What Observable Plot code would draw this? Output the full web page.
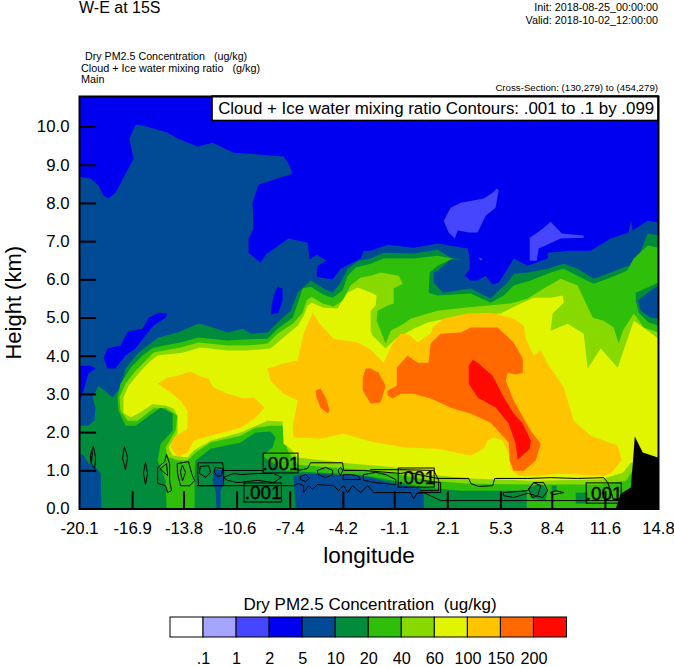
<!DOCTYPE html>
<html><head><meta charset="utf-8">
<script src="https://cdn.jsdelivr.net/npm/d3@7"></script>
<script src="https://cdn.jsdelivr.net/npm/@observablehq/plot@0.6"></script>
<style>
html,body{margin:0;padding:0;background:#fff;font-family:"Liberation Sans",Arial,sans-serif;color:#000}
#page{width:674px;height:667px;overflow:hidden}
#head{position:relative;height:90px}
#head div{position:absolute;white-space:pre;line-height:1}
#legendTitle{height:16px;line-height:18px;text-align:center;font-size:17px;width:400px;margin-left:170px;white-space:pre}
svg{display:block}
</style></head><body>
<div id="page">
<div id="head">
<div style="left:79px;top:0px;font-size:16px">W-E at 15S</div>
<div style="right:16px;top:2px;font-size:10.8px">Init: 2018-08-25_00:00:00</div>
<div style="right:16px;top:15px;font-size:10.8px">Valid: 2018-10-02_12:00:00</div>
<div style="left:85px;top:51px;font-size:10.7px">Dry PM2.5 Concentration   (ug/kg)</div>
<div style="left:81px;top:63px;font-size:10.8px">Cloud + Ice water mixing ratio   (g/kg)</div>
<div style="left:81px;top:74px;font-size:10.8px">Main</div>
<div style="right:16px;top:83px;font-size:9.7px">Cross-Section: (130,279) to (454,279)</div>
</div>
<div id="chart"></div>
<div id="legendTitle">Dry PM2.5 Concentration  (ug/kg)</div>
<div id="legend"></div>
</div>
<script>
// Legend classes
const classColors = ["#ffffff","#a5a5ff","#4646ff","#0000f0","#004a96","#008c3c","#2fbe0a","#87d900","#e1f500","#ffc400","#ff6900","#ff0a00"];
const classLabels = [".1","1","2","5","10","20","40","60","100","150","200"];
const xTickValues = [-20.1,-16.9,-13.8,-10.6,-7.4,-4.2,-1.1,2.1,5.3,8.4,11.6,14.8];
const yTickValues = [0,1,2,3,4,5,6,7,8,9,10];

// Filled regions as flat [longitude, height km, ...] outlines
const ge5Main = [-20.1,8.70,-19.44,8.65,-18.95,8.47,-18.65,8.20,-18.35,8.13,-17.93,8.28,-16.84,9.17,-17.09,9.70,-16.72,10.06,-16.30,10.04,-15.64,9.96,-14.79,9.85,-14.19,9.70,-12.98,9.49,-12.08,9.59,-10.81,9.33,-7.80,9.23,-7.50,9.04,-7.26,8.78,-8.40,8.62,-9.31,8.49,-9.67,8.02,-9.61,7.34,-9.91,7.08,-9.91,6.71,-9.19,6.45,-8.88,6.66,-7.50,7.08,-6.35,6.97,-6.23,6.53,-5.81,6.66,-5.21,6.50,-5.75,6.37,-5.81,6.08,-4.84,6.01,-4.36,6.29,-3.15,6.56,-2.97,6.76,-2.55,6.76,-1.53,6.92,0.04,6.84,1.49,6.95,3.30,6.82,3.42,6.56,3.42,6.29,3.12,6.11,3.48,5.98,3.90,5.98,4.38,6.11,4.80,5.87,5.17,5.93,5.71,6.29,6.07,6.56,6.91,6.37,8.12,6.56,8.12,6.71,9.51,6.76,10.71,6.76,11.92,7.08,13.00,7.24,13.13,7.55,13.25,7.29,14.15,7.55,14.8,7.50,14.8,0,-20.1,0];
const below5Left = [-20.1,3.75,-19.44,3.75,-19.13,3.68,-19.56,3.54,-19.86,3.10,-20.1,2.79];
const below5Blob = [-14.79,5.12,-15.34,5.14,-15.94,5.01,-16.30,4.72,-17.20,4.64,-17.63,4.28,-18.41,4.20,-18.65,3.96,-18.41,3.68,-17.93,3.68,-17.33,4.02,-16.72,4.20,-16.12,4.54,-15.64,4.80,-14.91,5.01];
const below5Slit = [-8.16,5.82,-7.86,5.77,-7.86,5.46,-8.10,5.14,-8.58,5.09,-8.52,5.32,-8.40,5.59];
const ge10Main = [-20.1,2.18,-19.62,2.18,-19.20,2.31,-19.13,2.65,-19.31,2.92,-18.95,3.23,-18.11,2.92,-17.63,3.18,-17.33,3.68,-16.60,4.07,-15.82,4.33,-15.34,4.49,-14.19,4.62,-12.92,4.85,-12.38,4.80,-11.18,4.62,-10.27,4.72,-9.79,4.59,-8.76,4.62,-8.16,4.88,-7.37,5.19,-6.95,5.66,-6.17,5.98,-5.38,5.77,-4.84,5.66,-4.36,5.93,-3.94,6.29,-3.27,6.50,-2.55,6.56,-1.77,6.71,0.04,6.69,1.49,6.79,2.27,6.58,2.94,6.53,2.27,6.53,1.49,6.24,1.25,6.19,1.25,5.93,1.79,5.66,3.48,5.77,4.68,5.51,5.17,5.72,5.71,5.93,6.07,6.16,6.91,6.19,8.12,6.29,9.09,6.42,9.93,6.29,10.90,6.03,11.92,6.19,12.95,6.37,13.13,6.29,13.55,6.56,14.15,7.21,14.8,7.16,14.8,0,-18.77,0,-18.83,0.93,-19.13,1.09,-19.56,1.19,-19.85,1.40,-20.1,1.46];
const below10Floor = [-7.19,0.87,-6.35,0.93,-3.33,0.87,-2.55,0.82,-1.16,0.67,0.46,0.54,0.65,0.40,0.65,0,-7.07,0];
const below10Slim = [-12.02,1.06,-11.41,1.00,-11.41,0.67,-11.60,0.48,-11.60,0,-11.84,0,-11.90,0.48,-12.08,0.74];
const ge20Main = [-17.75,2.58,-17.81,2.92,-17.63,3.28,-17.02,3.70,-16.30,4.02,-15.64,4.23,-14.01,4.36,-12.92,4.49,-11.18,4.41,-10.21,4.44,-8.76,4.46,-8.16,4.72,-7.25,5.01,-6.89,5.46,-6.65,5.77,-6.17,5.82,-5.38,5.61,-4.84,5.53,-4.24,5.72,-3.94,6.11,-3.45,6.32,-2.55,6.42,-1.77,6.56,0.04,6.56,1.49,6.63,2.40,6.56,1.49,6.37,1.01,6.19,0.95,5.66,1.49,5.59,3.48,5.64,4.68,5.40,5.47,5.59,6.07,5.85,7.10,5.98,8.30,6.19,9.09,6.29,10.11,6.06,10.90,5.90,11.92,6.06,12.89,6.24,13.31,6.56,14.15,6.90,14.8,6.84,14.8,0,6.86,0,6.86,0.48,2.88,0.48,0.65,0.56,-1.16,0.74,-3.15,0.90,-6.95,0.98,-7.67,1.01,-8.70,1.27,-9.06,1.40,-8.46,1.61,-8.28,1.87,-8.58,2.03,-9.49,2.00,-10.39,1.74,-12.20,1.58,-13.10,1.27,-13.16,1.00,-13.16,0,-14.85,0,-14.91,0.74,-15.39,1.27,-15.21,1.71,-14.49,2.05,-14.49,2.50,-15.21,2.65,-15.70,2.50,-16.72,2.18,-17.33,2.18];
const below20Right = [14.8,5.93,14.15,5.80,13.43,5.66,13.43,5.46,13.61,5.14,14.21,4.88,14.8,4.80];
const below20PatchA = [6.92,0.54,7.70,0.69,8.12,0.48,8.00,0.22,7.10,0.28];
const below20PatchB = [9.81,0.43,10.53,0.43,10.53,0.14,9.81,0.14];
const below20PatchC = [8.36,0.61,8.66,0.61,8.66,0.46,8.36,0.46];
const below10Right = [14.8,5.85,14.15,5.66,13.55,5.45,13.73,5.19,14.33,5.01,14.8,4.99];
const ge40Main = [-17.63,2.58,-17.69,2.92,-17.33,3.28,-16.72,3.62,-16.12,3.88,-15.64,4.10,-14.01,4.23,-12.92,4.36,-11.18,4.28,-9.97,4.28,-8.76,4.33,-8.16,4.59,-7.25,4.85,-6.65,5.14,-6.41,5.46,-6.11,5.56,-5.44,5.38,-4.78,5.30,-4.24,5.46,-3.76,5.85,-3.15,6.06,-2.55,6.11,-1.95,6.19,-0.86,6.11,-0.62,5.90,-1.16,5.77,-1.16,5.38,-1.53,5.33,-2.13,5.19,-2.19,4.93,-1.95,4.67,-1.65,4.33,-1.34,4.67,-0.56,4.85,-0.14,4.98,0.89,5.12,1.49,5.19,3.06,5.27,5.89,5.38,6.92,5.51,7.88,5.77,8.91,6.03,9.93,5.85,10.29,5.51,10.84,5.01,11.50,4.93,12.10,4.75,12.40,4.33,12.65,4.67,13.31,5.12,13.91,4.75,14.8,4.62,14.8,1.0,13.25,1.01,12.83,0.74,11.32,0.64,7.10,0.64,3.48,0.66,1.07,0.74,-1.16,0.93,-3.15,1.03,-6.95,1.16,-7.49,1.48,-7.74,1.79,-7.67,2.18,-8.58,2.18,-9.49,2.13,-10.39,1.92,-12.20,1.74,-13.10,1.48,-13.59,1.27,-14.13,1.27,-14.79,1.37,-14.91,1.61,-14.31,2.05,-14.19,2.44,-14.91,2.65,-15.64,2.63,-16.60,2.31,-17.20,2.31];
const ge60Main = [-17.45,2.52,-17.45,2.92,-17.14,3.23,-16.54,3.55,-15.94,3.83,-15.39,4.02,-13.89,4.09,-12.80,4.23,-11.18,4.15,-9.97,4.15,-8.58,4.20,-7.80,4.49,-6.95,4.80,-6.59,5.06,-6.35,5.32,-6.11,5.40,-5.38,5.27,-4.54,5.25,-4.36,5.38,-3.94,5.66,-3.33,5.80,-2.55,5.67,-2.19,5.59,-2.25,5.33,-2.55,5.19,-2.55,4.67,-2.43,4.54,-1.65,4.20,-1.04,4.46,0.04,4.72,0.89,4.88,1.97,4.98,3.06,5.06,5.29,5.12,6.50,5.38,7.28,5.53,8.30,5.53,9.03,5.59,9.09,5.40,8.42,5.12,8.30,4.67,9.33,4.85,10.29,4.59,10.53,3.68,11.32,4.20,12.34,3.70,13.31,4.93,14.15,4.67,14.8,4.46,14.8,1.2,13.13,1.21,12.65,0.95,11.32,0.77,7.10,0.74,3.48,0.80,1.07,0.90,-1.16,1.09,-3.94,1.20,-6.95,1.35,-7.37,1.57,-7.80,1.71,-7.86,2.29,-8.76,2.31,-10.39,2.00,-12.20,1.79,-13.22,1.53,-13.59,1.35,-14.49,1.40,-14.73,1.61,-14.19,1.98,-14.19,2.44,-14.43,2.63,-14.91,2.71,-15.70,2.74,-16.54,2.50,-17.02,2.40];
const ge100Left = [-15.39,3.28,-14.79,3.44,-14.19,3.49,-13.40,3.60,-12.92,3.49,-12.32,3.41,-12.02,3.18,-11.18,3.02,-10.21,2.89,-9.61,2.92,-8.94,2.65,-9.49,2.39,-10.39,2.13,-12.20,1.92,-13.22,1.79,-13.59,1.48,-14.19,1.37,-14.61,1.61,-14.43,1.87,-13.59,2.10,-13.59,2.57,-14.01,2.84,-14.61,3.05];
const ge100Main = [-8.76,3.68,-7.80,3.81,-6.95,3.89,-6.59,4.59,-6.05,5.14,-5.69,4.88,-4.78,4.46,-3.33,4.36,-2.55,4.17,-1.77,3.83,-1.22,4.33,-0.74,4.59,-0.26,4.57,0.28,4.36,1.07,4.59,1.19,4.75,1.85,4.98,3.30,5.12,4.68,5.14,6.07,4.98,6.68,4.80,6.80,4.46,7.28,4.02,7.70,4.15,8.12,3.81,9.09,3.18,9.69,2.31,10.71,1.92,12.34,1.66,12.58,1.27,11.92,0.93,11.50,0.87,8.73,0.92,7.52,0.87,6.37,0.87,5.89,1.05,5.77,1.45,5.41,1.79,4.86,1.87,4.50,1.79,4.26,1.58,3.48,1.40,1.49,1.58,-0.56,1.61,-2.55,1.77,-4.18,1.97,-5.57,1.84,-7.19,1.87,-7.25,2.13,-6.95,2.84,-7.80,3.02,-8.58,3.36];
const ge150Small = [-5.87,3.10,-5.57,3.15,-5.26,2.92,-5.02,2.58,-5.14,2.50,-5.57,2.65,-5.81,2.92];
const ge150Left = [-2.85,3.68,-2.55,3.68,-2.07,3.57,-1.65,3.23,-1.95,2.79,-2.55,2.76,-3.03,3.10,-3.03,3.44];
const ge150Main = [-1.53,2.97,-1.53,3.10,-0.98,3.23,-0.98,3.70,-0.32,4.02,0.28,3.83,0.94,3.83,1.07,4.33,1.67,4.59,2.88,4.62,3.48,4.75,5.11,4.75,6.07,4.36,6.62,3.94,6.62,3.57,6.19,3.52,5.71,3.57,5.59,3.36,6.07,2.84,7.10,2.05,7.70,1.71,7.40,1.27,6.68,1.00,6.07,1.00,5.83,1.27,5.77,1.74,4.68,2.26,3.48,2.50,2.40,2.63,1.07,2.89,0.04,3.02,-0.74,3.02,-1.22,2.89];
const ge200Main = [3.36,3.75,3.60,3.91,3.90,3.83,4.80,3.49,5.47,2.92,6.07,2.50,6.62,2.24,7.10,1.79,7.04,1.58,6.31,1.29,6.19,1.71,5.77,2.24,4.98,2.66,3.90,2.92,3.36,3.28];
const below2West = [5.05,8.39,5.17,8.34,4.98,7.89,4.38,7.68,3.90,7.24,3.36,7.24,2.70,7.29,2.52,7.08,2.15,7.24,1.85,7.55,2.27,7.89,2.88,8.02,4.26,8.13,4.80,8.28];
const below2East = [8.30,7.52,8.97,7.21,10.29,7.16,10.29,7.10,8.91,7.08,7.58,6.82,7.46,6.50,7.04,6.50,7.04,7.10,7.82,7.34];
const below2Speck = [3.96,6.58,4.20,6.56,4.08,6.50];
const terrain = [12.22,0,12.52,0.40,13.13,0.56,13.25,1.19,13.37,1.90,13.85,1.48,14.76,1.35,14.8,1.32,14.8,0];

// Cloud + ice water .001 contour paths
const closedContours = [
 [-19.26,1.63,-19.13,1.35,-19.19,1.06,-19.38,1.19,-19.44,1.40],
 [-19.44,1.40,-19.32,1.50,-19.38,1.19],
 [-17.39,1.63,-17.20,1.35,-17.33,1.03,-17.50,1.32],
 [-16.12,1.21,-16.00,0.93,-16.12,0.64,-16.24,0.93],
 [-14.85,1.42,-14.67,1.19,-14.67,0.74,-14.55,0.48,-14.79,0.43,-14.91,0.61,-15.39,0.67,-15.39,1.08,-14.97,1.24],
 [-15.21,1.06,-14.85,1.19,-14.79,0.88,-15.03,0.96],
 [-14.19,1.19,-13.53,1.24,-13.34,0.93,-13.16,0.74,-13.46,0.61,-14.01,0.61,-14.19,0.93],
 [-13.89,1.14,-13.71,0.96,-13.89,0.74,-14.01,0.96],
 [-12.92,1.21,-11.47,1.21,-11.41,1.01,-11.41,0.61,-12.92,0.61,-12.98,0.93],
 [-12.80,1.11,-12.32,1.14,-12.20,0.96,-12.50,0.83,-12.86,0.93],
 [-11.90,1.09,-11.47,1.06,-11.53,0.88,-11.78,0.85,-11.96,0.96],
 [-11.41,0.83,-10.81,0.93,-10.39,0.90,-9.36,0.93,-8.40,0.93,-7.92,0.83,-8.40,0.69,-9.36,0.75,-10.57,0.69,-11.17,0.75],
 [-6.77,0.85,-6.47,0.90,-6.23,0.80,-6.47,0.72,-6.77,0.77],
 [-5.75,1.01,-5.26,1.09,-4.84,1.01,-4.84,0.90,-5.26,0.82,-5.69,0.90],
 [-4.48,1.03,-4.36,1.09,-4.24,1.01,-4.36,0.88,-4.48,0.96],
 [-4.18,0.90,-3.76,0.90,-3.33,0.87,-3.15,0.77,-3.76,0.77,-4.18,0.77],
 [-2.97,0.90,-2.25,0.96,-1.65,0.90,-1.04,0.77,-1.04,0.64,-2.25,0.69,-2.97,0.75],
 [5.47,0.43,6.92,0.48,7.28,0.69,7.88,0.69,8.12,0.48,7.82,0.30,6.92,0.41,6.07,0.30,5.47,0.35],
 [6.98,0.54,7.28,0.69,7.70,0.61,7.52,0.35,7.22,0.30],
 [8.31,0.43,8.61,0.48,9.09,0.43,8.49,0.38]
];
const openContours = [
 [-11.41,1.01,-9.06,1.01],
 [-12.98,0.61,-7.80,0.61,-7.19,0.61,-6.89,0.67,-6.59,0.61,-6.59,0.43,-6.29,0.61,-6.05,0.51,-5.75,0.64,-4.78,0.61,-4.48,0.48,-4.18,0.61,-3.94,0.43,-3.64,0.61,-3.15,0.43,-2.73,0.61,-2.37,0.43,-0.74,0.43,-0.14,0.43,0.04,0.27,0.28,0.43,1.67,0.43,1.67,0.69,0.65,0.74],
 [-6.89,1.01,-6.35,1.06,-6.17,1.21,-4.24,1.21,-4.18,1.01,-2.97,1.01,-0.74,0.93,-0.32,0.96,1.49,0.80,3.36,0.80,3.48,0.67,3.96,0.59,4.80,0.61,4.93,0.80,6.92,0.80,8.30,0.82,9.93,0.80,11.50,0.82,11.74,0.69,11.92,0.48,12.10,0.22],
 [-2.55,1.03,-0.80,1.03,1.25,1.01,1.55,0.75,1.55,0.48,0.46,0.48],
 [0.34,0.41,0.65,0.43,1.67,0.22,12.52,0.22]
];
const contourLabelText = ".001";
const labelLon1 = [-9.0,-10.15,-0.86,10.47];
const labelLon2 = [-6.9,-7.9,1.31,12.58];
const labelH1 = [0.93,0.17,0.56,0.14];
const labelH2 = [1.45,0.67,1.06,0.67];

const toRows = flat => d3.range(0, flat.length, 2).map(i => ({lon: flat[i], h: flat[i + 1]}));
const poly = (flat, fill) => Plot.line(toRows(flat), {x:"lon", y:"h", fill, stroke:"none", curve:"linear-closed"});
const c = classColors;

const fills = [
 [ge5Main,c[4]],[below5Left,c[3]],[below5Blob,c[3]],[below5Slit,c[3]],[below2West,c[2]],[below2East,c[2]],[below2Speck,c[2]],
 [ge10Main,c[5]],[below10Floor,c[4]],[below10Slim,c[4]],
 [ge20Main,c[6]],[below20Right,c[5]],[below10Right,c[4]],[below20PatchA,c[5]],[below20PatchB,c[5]],[below20PatchC,c[5]],
 [ge40Main,c[7]],[ge60Main,c[8]],[ge100Left,c[9]],[ge100Main,c[9]],
 [ge150Small,c[10]],[ge150Left,c[10]],[ge150Main,c[10]],[ge200Main,c[11]],
 [terrain,"#000"]
];
const labelRows = labelLon1.map((d,i)=>({x1:d,x2:labelLon2[i],y1:labelH1[i],y2:labelH2[i],xm:(d+labelLon2[i])/2,ym:(labelH1[i]+labelH2[i])/2,t:contourLabelText}));

const chart = Plot.plot({
  width:674, height:506, marginTop:6, marginLeft:79, marginRight:16, marginBottom:87.5,
  style:{fontFamily:'"Liberation Sans",Arial,sans-serif',background:"#fff",color:"#000",overflow:"visible"},
  x:{domain:[-20.1,14.8]}, y:{domain:[0,10.8]},
  marks:[
    Plot.frame({fill:c[3],stroke:"none"}),
    ...fills.map(([f,col])=>poly(f,col)),
    ...closedContours.map(f=>Plot.line(toRows(f),{x:"lon",y:"h",stroke:"#000",strokeWidth:1,curve:"linear-closed"})),
    ...openContours.map(f=>Plot.line(toRows(f),{x:"lon",y:"h",stroke:"#000",strokeWidth:1})),
    Plot.rect(labelRows,{x1:"x1",x2:"x2",y1:"y1",y2:"y2",fill:"none",stroke:"#000",strokeWidth:1}),
    Plot.text(labelRows,{x:"xm",y:"ym",text:"t",fontSize:19,fill:"#000",stroke:"#000",strokeWidth:0.4}),
    Plot.ruleX(xTickValues.slice(1,-1),{y1:0,y2:0.45,stroke:"#000",strokeWidth:2}),
    Plot.ruleY(yTickValues.slice(1),{x1:-20.1,x2:-19.07,stroke:"#000",strokeWidth:2}),
    Plot.axisX({ticks:xTickValues,tickSize:0,tickPadding:13,fontSize:16.8,label:null,tickFormat:d=>d.toFixed(1)}),
    Plot.axisY({ticks:yTickValues,tickSize:0,tickPadding:10,fontSize:16.8,label:null,tickFormat:d=>d.toFixed(1)}),
    Plot.text(["longitude"],{frameAnchor:"bottom",dy:54,fontSize:22.6,fill:"#000"}),
    Plot.text(["Height (km)"],{frameAnchor:"left",textAnchor:"middle",rotate:-90,dx:-66,fontSize:22,fill:"#000"}),
    Plot.rect([{x1:-12.08,x2:14.8,y1:10.16,y2:10.8}],{x1:"x1",x2:"x2",y1:"y1",y2:"y2",fill:"#fff",stroke:"#000",strokeWidth:1.5}),
    Plot.text(["Cloud + Ice water mixing ratio Contours: .001 to .1 by .099"],{x:1.4,y:10.48,fontSize:16.9,fill:"#000"}),
    Plot.frame({stroke:"#000",strokeWidth:2})
  ]
});
document.getElementById("chart").append(chart);

const legendRows = classColors.map((col,i)=>({x1:i,x2:i+1,col}));
const legendTicks = classLabels.map((t,i)=>({x:i+1,t}));
const legend = Plot.plot({
  width:674, height:55, marginTop:5, marginBottom:30, marginLeft:170, marginRight:107.5,
  style:{fontFamily:'"Liberation Sans",Arial,sans-serif',background:"#fff",color:"#000"},
  x:{domain:[0,12],axis:null}, y:{domain:[0,1],axis:null},
  marks:[
    Plot.rect(legendRows,{x1:"x1",x2:"x2",y1:0,y2:1,fill:"col",stroke:"#000",strokeWidth:1}),
    Plot.text(legendTicks,{x:"x",y:0,text:"t",dy:21.3,fontSize:16.2,fill:"#000"})
  ]
});
document.getElementById("legend").append(legend);
</script>
</body></html>
